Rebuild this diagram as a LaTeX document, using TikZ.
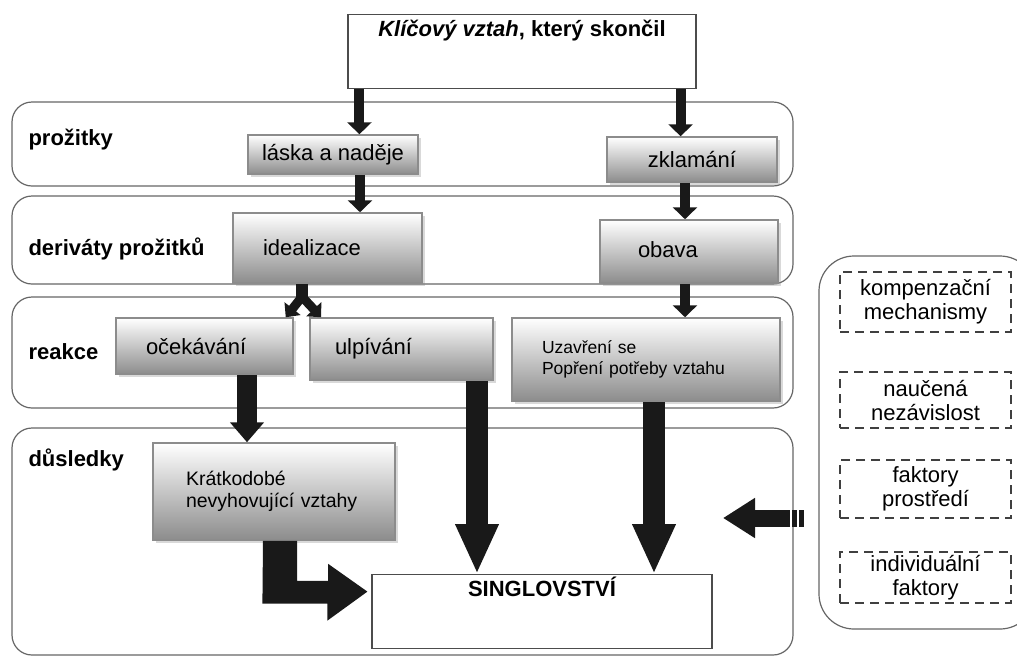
\documentclass[tikz,border=0pt]{standalone}
\usepackage{fontspec}
\setmainfont{Liberation Sans}
\usepackage{tikz}
\usetikzlibrary{arrows.meta,shadows}

\begin{document}
\begin{tikzpicture}[x=1pt,y=-1pt,font=\fontsize{22}{25}\selectfont,
  band/.style={draw=black!60,line width=1.2pt,rounded corners=20pt,minimum width=781pt},
  lab/.style={anchor=west,font=\fontsize{22}{25}\selectfont\bfseries},
  gbox/.style={draw=black!45,line width=1.5pt,top color=white,bottom color=black!45,
    drop shadow={shadow xshift=3pt,shadow yshift=-3pt,opacity=.3},inner xsep=30pt,align=left},
  wbox/.style={draw=black!70,line width=1.2pt,fill=white,anchor=north,minimum width=#1,
    inner ysep=6pt,text height=16pt,text depth=46pt,font=\fontsize{22}{25}\selectfont\bfseries},
  dbox/.style={draw=black!75,line width=1.8pt,dash pattern=on 9pt off 6pt,minimum width=171pt,
    align=center,inner ysep=2pt,font=\fontsize{22}{24}\selectfont},
  blk/.style n args={3}{draw=black!90,line width=#1,-{Triangle[length=#2,width=#3]}}]
\clip (0,0) rectangle (1017,657);
\node[band,minimum height=84pt] (bprozitky) at (402.5,144) {};
\node[band,minimum height=88pt] (bderivaty) at (402.5,240) {};
\node[band,minimum height=111pt] (breakce) at (402.5,352.5) {};
\node[band,minimum height=227pt] (bdusledky) at (402.5,541.5) {};
\node[draw=black!60,line width=1.2pt,rounded corners=35pt,minimum width=216pt,minimum height=373pt] (panel) at (927,442.5) {};
\node[lab] (lprozitky) at (25,140) {prožitky};
\node[lab] (lderivaty) at (25,249) {deriváty prožitků};
\node[lab] (lreakce) at (25,352) {reakce};
\node[lab] (ldusledky) at (25,460) {důsledky};
\node[wbox=348pt] (title) at (522,14) {\textit{Klíčový vztah}, který skončil};
\node[wbox=340pt] (single) at (542,574) {SINGLOVSTVÍ};
\node[gbox,inner xsep=4pt,align=center,minimum width=170pt,minimum height=39pt] (lask) at (333,154.5) {láska a naděje};
\node[gbox,inner xsep=4pt,align=center,minimum width=170pt,minimum height=45pt] (zklam) at (692,159.5) {zklamání};
\node[gbox,text width=129pt,minimum height=70pt] (ideal) at (327.5,248) {idealizace};
\node[gbox,inner xsep=38pt,text width=102pt,minimum height=63pt] (obava) at (689,251.5) {\\[-12pt]obava};
\node[gbox,text width=117pt,minimum height=56pt] (ocek) at (204.5,346) {očekávání};
\node[gbox,inner xsep=25pt,text width=133pt,minimum height=62pt] (ulpiv) at (401.5,349) {ulpívání};
\node[gbox,text width=208pt,minimum height=83pt,font=\fontsize{17.5}{21}\selectfont] (uzav) at (646,359.5) {Uzavření se\\Popření potřeby vztahu};
\node[gbox,inner xsep=33pt,text width=176pt,minimum height=97pt,font=\fontsize{19.5}{22}\selectfont] (kratk) at (274,491.5) {Krátkodobé\\nevyhovující vztahy\\[-15pt]};
\node[dbox,minimum height=60pt] (kompenz) at (925.5,302) {kompenzační\\mechanismy};
\node[dbox,minimum height=56pt] (naucena) at (925.5,400) {naučená\\nezávislost};
\node[dbox,minimum height=58pt] (prostredi) at (925.5,489) {faktory\\prostředí};
\node[dbox,minimum height=51pt] (individ) at (925.5,577.5) {individuální\\faktory};
\draw[blk={10pt}{12pt}{24pt}] ([xshift=12pt]title.south west) -- ([xshift=12pt]title.south west |- lask.north);
\draw[blk={10pt}{12pt}{24pt}] ([xshift=-16pt]title.south east) -- ([xshift=-16pt]title.south east |- zklam.north);
\draw[blk={10pt}{12pt}{24pt}] ([xshift=27pt]lask.south) -- ([xshift=27pt]lask.south |- ideal.north);
\draw[blk={10pt}{12pt}{24pt}] ([xshift=-7pt]zklam.south) -- ([xshift=-7pt]zklam.south |- obava.north);
\draw[blk={10pt}{12pt}{24pt}] ([xshift=-4pt]obava.south) -- ([xshift=-4pt]obava.south |- uzav.north);
\coordinate (split) at ([xshift=-25.5pt,yshift=-17pt]ideal.south);
\draw[draw=black!90,line width=12pt] ([xshift=-25.5pt]ideal.south) -- (split);
\draw[blk={9pt}{11pt}{20pt}] ([yshift=4pt]split) -- ([xshift=-8pt]ocek.north east);
\draw[blk={9pt}{11pt}{20pt}] ([yshift=4pt]split) -- ([xshift=12pt]ulpiv.north west);
\draw[blk={20pt}{20pt}{33pt}] ([xshift=42.5pt]ocek.south) -- ([xshift=42.5pt]ocek.south |- kratk.north);
\draw[blk={22pt}{50pt}{40pt}] ([xshift=75.5pt]ulpiv.south) -- ([xshift=75.5pt]ulpiv.south |- single.north);
\draw[blk={22pt}{50pt}{40pt}] ([xshift=8pt]uzav.south) -- ([xshift=8pt]uzav.south |- single.north);
\fill[black!90] ([xshift=-11pt]kratk.south) -- ++(34,0) -- ++(0,40) -- ++(31,0) -- ++(0,-17)
  -- ([xshift=-4pt,yshift=20pt]single.west) -- ++(-40,29) -- ++(0,-17) -- ++(-65,0) -- cycle;
\coordinate (ltail) at (790,518);
\coordinate (lhead) at (723,518);
\draw[blk={17pt}{32pt}{38pt}] (ltail) -- (lhead);
\fill[black!90] ([xshift=2pt,yshift=8.5pt]ltail) rectangle ++(5,17);
\fill[black!90] ([xshift=9pt,yshift=8.5pt]ltail) rectangle ++(5,17);
\end{tikzpicture}
\end{document}
